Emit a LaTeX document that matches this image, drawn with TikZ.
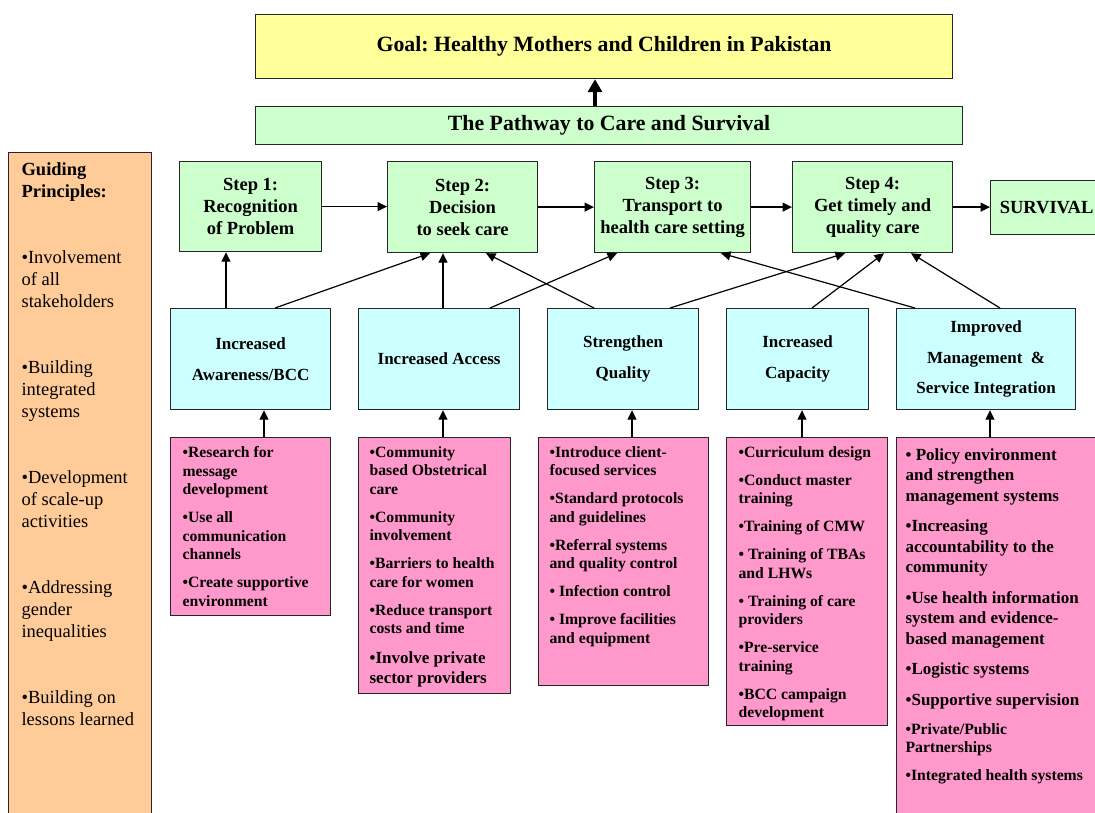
\documentclass[tikz,border=0pt]{standalone}
\usepackage{fontspec}
\setmainfont{Liberation Serif}
\usetikzlibrary{arrows.meta,calc}
\definecolor{goalyellow}{HTML}{FFFF99}
\definecolor{stepgreen}{HTML}{CCFFCC}
\definecolor{midcyan}{HTML}{CCFFFF}
\definecolor{actpink}{HTML}{FF99CC}
\definecolor{guideorange}{HTML}{FFCC99}
\newcommand{\boxpar}[3]{\parbox[c][#2][t]{#1}{\raggedright #3}}
\newcommand{\isep}{\par\vspace{9.5pt}}
\frenchspacing
\tikzset{
  bx/.style={draw=black!85, line width=1.2pt, anchor=north west, inner sep=0pt},
  goalbox/.style={bx, fill=goalyellow, font=\fontsize{21.8}{26}\selectfont\bfseries},
  pathbox/.style={bx, fill=stepgreen, font=\fontsize{21.8}{26}\selectfont\bfseries},
  stepbox/.style={bx, fill=stepgreen, align=center, font=\fontsize{18.5}{22}\selectfont\bfseries},
  midbox/.style={bx, fill=midcyan, align=center, font=\fontsize{17}{30.5}\selectfont\bfseries},
  pinkbox/.style={bx, fill=actpink, inner xsep=12pt, inner ysep=9pt, font=\fontsize{15.7}{18.5}\selectfont\bfseries},
  guidebox/.style={bx, fill=guideorange, inner xsep=14pt, inner ysep=10pt, font=\fontsize{18.5}{22}\selectfont},
  arr/.style={line width=1.2pt, draw=black, -{Triangle[length=9.5pt,width=9pt]}},
  bigarr/.style={line width=4pt, draw=black, -{Triangle[length=13pt,width=14pt]}}
}
\begin{document}
\begin{tikzpicture}[x=1pt,y=-1pt]
\useasboundingbox (0,0) rectangle (1095,813);
\clip (0,0) rectangle (1095,813);
\fill[white] (0,0) rectangle (1095,813);

% top
\node[goalbox, minimum width=697pt, minimum height=64pt] (goal) at (255,14) {Goal: Healthy Mothers and Children in Pakistan};
\node[pathbox, minimum width=707pt, minimum height=38pt] (path) at (255,106) {The Pathway to Care and Survival};
\draw[bigarr] ($(path.north west)+(340,0)$) -- ($(goal.south west)+(340,0)$);

% guiding principles
\node[guidebox, inner xsep=13pt] (guide) at (8,152) {\boxpar{117pt}{660pt}{{\bfseries Guiding\\Principles:}\par\vspace{44pt}
•Involvement\\of all\\stakeholders\par\vspace{44pt}
•Building\\integrated\\systems\par\vspace{44pt}
•Development\\of scale-up\\activities\par\vspace{44pt}
•Addressing\\gender\\inequalities\par\vspace{44pt}
•Building on\\lessons learned}};

% steps
\node[stepbox, minimum width=142pt, minimum height=90pt] (s1) at (179,161) {Step 1:\\Recognition\\of Problem};
\node[stepbox, minimum width=150pt, minimum height=91pt] (s2) at (387,161) {Step 2:\\Decision\\to seek care};
\node[stepbox, minimum width=156pt, minimum height=91pt] (s3) at (594,161) {Step 3:\\Transport to\\health care setting};
\node[stepbox, minimum width=160pt, minimum height=91pt] (s4) at (792,161) {Step 4:\\Get timely and\\quality care};
\node[stepbox, minimum width=112pt, minimum height=54pt] (surv) at (990,180) {SURVIVAL};

\draw[arr] (s1.east) -- (s2.west |- s1.east);
\draw[arr] (s2.east) -- (s3.west |- s2.east);
\draw[arr] (s3.east) -- (s4.west |- s3.east);
\draw[arr] (s4.east) -- (surv.west |- s4.east);

% middle row
\node[midbox, minimum width=160pt, minimum height=101pt] (aw) at (170,308) {Increased\\Awareness/BCC};
\node[midbox, minimum width=161pt, minimum height=101pt] (acc) at (358,308) {Increased Access};
\node[midbox, minimum width=151pt, minimum height=101pt] (qual) at (547,308) {Strengthen\\Quality};
\node[midbox, minimum width=142pt, minimum height=101pt] (cap) at (726,308) {Increased\\Capacity};
\node[midbox, minimum width=179pt, minimum height=101pt] (mgmt) at (896,308) {Improved\\Management\ \ \&\\Service Integration};

% middle -> steps
\draw[arr] ($(aw.north west)+(56,0)$) -- ($(s1.south west)+(47,0)$);
\draw[arr] ($(aw.north west)+(105,0)$) -- ($(s2.south west)+(43,0)$);
\draw[arr] ($(acc.north west)+(85,0)$) -- ($(s2.south west)+(56,0)$);
\draw[arr] ($(acc.north west)+(132,0)$) -- ($(s3.south west)+(23,0)$);
\draw[arr] ($(qual.north west)+(47,0)$) -- ($(s2.south west)+(99,0)$);
\draw[arr] ($(qual.north west)+(123,0)$) -- ($(s4.south west)+(53,0)$);
\draw[arr] ($(cap.north west)+(86,0)$) -- ($(s4.south west)+(92,0)$);
\draw[arr] ($(mgmt.north west)+(19,0)$) -- ($(s3.south west)+(127,0)$);
\draw[arr] ($(mgmt.north west)+(104,0)$) -- ($(s4.south west)+(119,0)$);

% activity boxes
\node[pinkbox] (p1) at (170,437) {\boxpar{136pt}{160pt}{•Research for\\message\\development\isep
•Use all\\communication\\channels\isep
•Create supportive\\environment}};
\node[pinkbox, inner xsep=11pt] (p2) at (358,437) {\boxpar{130pt}{238pt}{•Community\\based Obstetrical\\care\isep
•Community\\involvement\isep
•Barriers to health\\care for women\isep
•Reduce transport\\costs and time\par\vspace{10pt}
{\fontsize{17}{20}\selectfont •Involve private\\sector providers\par}}};
\node[pinkbox, inner xsep=11pt] (p3) at (538,437) {\boxpar{148pt}{230pt}{•Introduce client-\\focused services\isep
•Standard protocols\\and guidelines\isep
•Referral systems\\and quality control\isep
• Infection control\isep
• Improve facilities\\and equipment}};
\node[pinkbox] (p4) at (726,437) {\boxpar{137pt}{270pt}{•Curriculum design\isep
•Conduct master\\training\isep
•Training of CMW\isep
• Training of TBAs\\and LHWs\isep
• Training of care\\providers\isep
•Pre-service\\training\isep
•BCC campaign\\development}};
\node[pinkbox, inner xsep=9pt, inner ysep=11pt] (p5) at (896,437) {\boxpar{186pt}{380pt}{\fontsize{17}{20.5}\selectfont • Policy environment\\and strengthen\\management systems\par\vspace{10pt}
•Increasing\\accountability to the\\community\par\vspace{10pt}
•Use health information\\system and evidence-\\based management\par\vspace{10pt}
•Logistic systems\par\vspace{10pt}
•Supportive supervision\par\vspace{11pt}
{\fontsize{15.7}{18}\selectfont •Private/Public\\Partnerships\par\vspace{10pt}
•Integrated health systems\par}}};

% activities -> middle
\draw[arr] ($(p1.north west)+(94,0)$) -- ($(aw.south west)+(94,0)$);
\draw[arr] ($(p2.north west)+(85,0)$) -- ($(acc.south west)+(85,0)$);
\draw[arr] ($(p3.north west)+(94,0)$) -- ($(qual.south west)+(85,0)$);
\draw[arr] ($(p4.north west)+(76,0)$) -- ($(cap.south west)+(76,0)$);
\draw[arr] ($(p5.north west)+(94,0)$) -- ($(mgmt.south west)+(94,0)$);
\end{tikzpicture}
\end{document}
